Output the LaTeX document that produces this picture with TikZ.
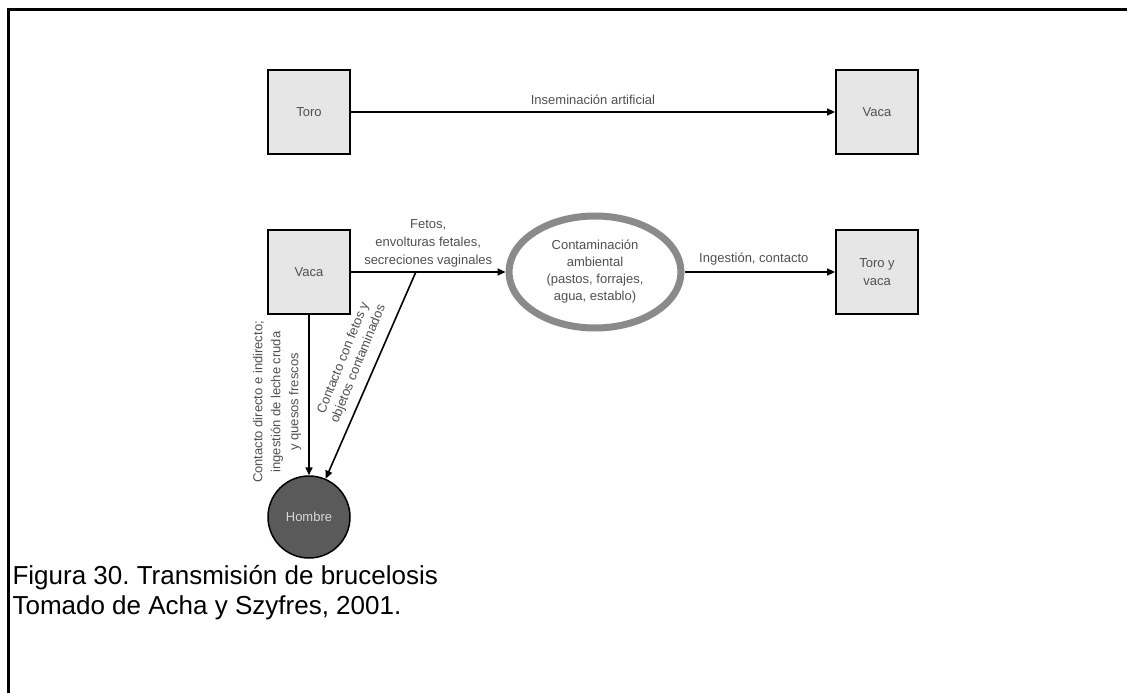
\documentclass[tikz,border=0pt]{standalone}
\usepackage{fontspec}
\setmainfont{Liberation Sans}
\usepackage{xcolor}
\usepackage{tikz}
\usetikzlibrary{positioning, arrows.meta, calc, shapes.geometric}
\definecolor{BoxFill}{HTML}{E6E6E6}
\definecolor{RingGray}{HTML}{8A8A8A}
\definecolor{ManGray}{HTML}{5A5A5A}
\definecolor{TxtGray}{HTML}{505050}
\frenchspacing

\tikzset{
  animalbox/.style={draw=black, line width=1.8pt, fill=BoxFill, minimum width=82pt,
    minimum height=84pt, text=TxtGray, font=\fontsize{13}{18}\selectfont, align=center},
  flowarrow/.style={line width=1.6pt, -{Triangle[length=8pt,width=7pt]}},
  lbl/.style={text=TxtGray, font=\fontsize{13}{18}\selectfont, align=center}
}

\begin{document}
\begin{tikzpicture}[x=1pt, y=-1pt]
  \useasboundingbox (0,0) rectangle (1127,693);
  \draw[line width=3pt] (8,693) -- (8,10) -- (1127,10);

  % fila superior
  \node[animalbox] (toro) at (309,112) {Toro};
  \node[animalbox] (vacaA) at (877,112) {Vaca};
  \draw[flowarrow] (toro) -- node[lbl, midway, above=3pt] {Inseminación artificial} (vacaA);

  % fila central
  \node[animalbox] (vacaB) at (309,272) {Vaca};
  \node[ellipse, draw=RingGray, line width=7pt, fill=white, minimum width=172pt,
    minimum height=112pt, inner sep=0pt, lbl, font=\fontsize{13}{17}\selectfont]
    (ambiente) at (595,272) {Contaminación\\ambiental\\(pastos, forrajes,\\agua, establo)};
  \node[animalbox] (torovaca) at (877,272) {Toro y\\vaca};
  \draw[flowarrow] (vacaB) -- node[lbl, midway, above=1pt] {Fetos,\\envolturas fetales,\\secreciones vaginales} (ambiente);
  \draw[flowarrow] (ambiente) -- node[lbl, midway, above=3pt, xshift=-6pt] {Ingestión, contacto} (torovaca);
  \coordinate (split) at ($(vacaB.east)!0.42!(ambiente.west)$);

  % hombre
  \node[circle, draw=black, line width=1.5pt, fill=ManGray, minimum size=82pt,
    text=white!85!black, font=\fontsize{13}{16}\selectfont] (hombre) at (309,517) {Hombre};
  \draw[flowarrow] (vacaB) -- (hombre);
  \draw[flowarrow] (split) -- (hombre);
  \node[lbl, rotate=90] at (277,402) {Contacto directo e indirecto;\\ingestión de leche cruda\\y quesos frescos};
  \node[lbl, rotate=68, font=\fontsize{13}{16}\selectfont] at (351,361) {Contacto con fetos y\\objetos contaminados};

  % leyenda
  \node[anchor=north west, align=left, font=\fontsize{26}{30}\selectfont] (caption) at (9,562)
    {Figura 30. Transmisión de brucelosis\\Tomado de Acha y Szyfres, 2001.};
\end{tikzpicture}
\end{document}
